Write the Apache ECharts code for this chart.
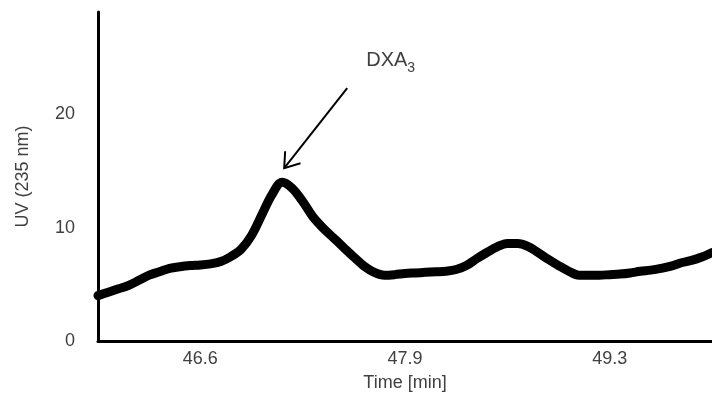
<!DOCTYPE html>
<html>
<head>
<meta charset="utf-8">
<script src="https://cdn.jsdelivr.net/npm/echarts@6/dist/echarts.min.js"></script>
<style>
  html, body { margin: 0; padding: 0; background: #fff; }
  #chart { width: 712px; height: 398px; }
</style>
</head>
<body>
<div id="chart"></div>
<script>
// Retention time of each sample (min)
const times = [
  45.95, 46.02, 46.08, 46.15, 46.21, 46.28, 46.34, 46.41, 46.47, 46.54,
  46.60, 46.67, 46.73, 46.80, 46.86, 46.93, 46.99, 47.06, 47.12, 47.19,
  47.25, 47.32, 47.38, 47.45, 47.51, 47.58, 47.64, 47.71, 47.77, 47.84,
  47.90, 47.97, 48.04, 48.11, 48.18, 48.25, 48.32, 48.39, 48.46, 48.53,
  48.60, 48.67, 48.74, 48.81, 48.88, 48.95, 49.02, 49.09, 49.16, 49.23,
  49.30, 49.37, 49.44, 49.51, 49.58, 49.65, 49.72, 49.79, 49.86, 49.93,
  50.00
];

// UV absorbance at 235 nm
const uv = [
  4.0, 4.3, 4.6, 4.9, 5.35, 5.8, 6.1, 6.4, 6.55, 6.65,
  6.7, 6.8, 7.0, 7.45, 8.1, 9.3, 11.1, 12.9, 14.0, 13.45,
  12.3, 10.95, 9.95, 9.1, 8.25, 7.4, 6.6, 6.05, 5.8, 5.85,
  5.95, 6.0, 6.05, 6.1, 6.15, 6.3, 6.65, 7.25, 7.8, 8.3,
  8.6, 8.6, 8.35, 7.8, 7.2, 6.65, 6.15, 5.8, 5.8, 5.8,
  5.85, 5.9, 6.0, 6.15, 6.25, 6.4, 6.6, 6.9, 7.1, 7.4,
  7.8
];

// Labelled retention times on the time axis
const timeTicks = ['46.6', '47.9', '49.3'];

// Peak annotation
const peakName = 'DXA';
const peakSub = '3';

const textColor = '#404040';
const fontFamily = 'Liberation Sans, Arial, sans-serif';

const chart = echarts.init(document.getElementById('chart'), null, { renderer: 'canvas' });

chart.setOption({
  animation: false,
  backgroundColor: '#ffffff',
  grid: { left: 98, right: 0, top: 12, bottom: 57 },
  xAxis: {
    type: 'category',
    data: times,
    boundaryGap: false,
    axisLine: { lineStyle: { color: '#000', width: 3 } },
    axisTick: { show: false },
    splitLine: { show: false },
    axisLabel: {
      interval: (idx, val) => timeTicks.includes(Number(val).toFixed(1)),
      formatter: (val) => Number(val).toFixed(1),
      color: textColor,
      fontSize: 18,
      fontFamily: fontFamily,
      margin: 9
    },
    name: 'Time [min]',
    nameLocation: 'middle',
    nameGap: 33,
    nameTextStyle: { color: textColor, fontSize: 18, fontFamily: fontFamily }
  },
  yAxis: {
    type: 'value',
    min: 0,
    max: 29,
    interval: 10,
    axisLine: { show: true, lineStyle: { color: '#000', width: 3 } },
    axisTick: { show: false },
    splitLine: { show: false },
    axisLabel: {
      showMaxLabel: false,
      color: textColor,
      fontSize: 18,
      fontFamily: fontFamily,
      margin: 23,
      padding: [6, 0, 0, 0]
    },
    name: 'UV (235 nm)',
    nameLocation: 'middle',
    nameGap: 66,
    nameRotate: 90,
    nameTextStyle: { color: textColor, fontSize: 18, fontFamily: fontFamily }
  },
  series: [{
    type: 'line',
    data: uv,
    smooth: 0.35,
    symbol: 'none',
    lineStyle: { color: '#000', width: 9, cap: 'round', join: 'round' },
    z: 3
  }]
});

// Arrow pointing at the highest peak, with its label above
const peakIdx = uv.indexOf(Math.max(...uv));
const p = chart.convertToPixel({ gridIndex: 0 }, [peakIdx, uv[peakIdx]]);
const tip = [p[0] + 2, p[1] - 14];
const tail = [tip[0] + 63, tip[1] - 80];
const ang = Math.atan2(tail[1] - tip[1], tail[0] - tip[0]);
const headLen = 17;
const spread = 35 * Math.PI / 180;
const arm = (s) => [tip[0] + headLen * Math.cos(ang + s), tip[1] + headLen * Math.sin(ang + s)];

chart.setOption({
  graphic: [
    {
      type: 'polyline',
      shape: { points: [tail, tip] },
      style: { stroke: '#000', lineWidth: 2, fill: null },
      z: 10
    },
    {
      type: 'polyline',
      shape: { points: [arm(spread), tip, arm(-spread)] },
      style: { stroke: '#000', lineWidth: 2, fill: null, lineJoin: 'miter' },
      z: 10
    },
    {
      type: 'text',
      x: tail[0] + 19,
      y: tail[1] - 27.5,
      style: {
        text: '{a|' + peakName + '}{s|' + peakSub + '}',
        verticalAlign: 'middle',
        align: 'left',
        rich: {
          a: { fontSize: 20, lineHeight: 28, verticalAlign: 'middle', fill: textColor, fontFamily: fontFamily },
          s: { fontSize: 14, lineHeight: 16, verticalAlign: 'bottom', fill: textColor, fontFamily: fontFamily }
        }
      },
      z: 10
    }
  ]
});
</script>
</body>
</html>
